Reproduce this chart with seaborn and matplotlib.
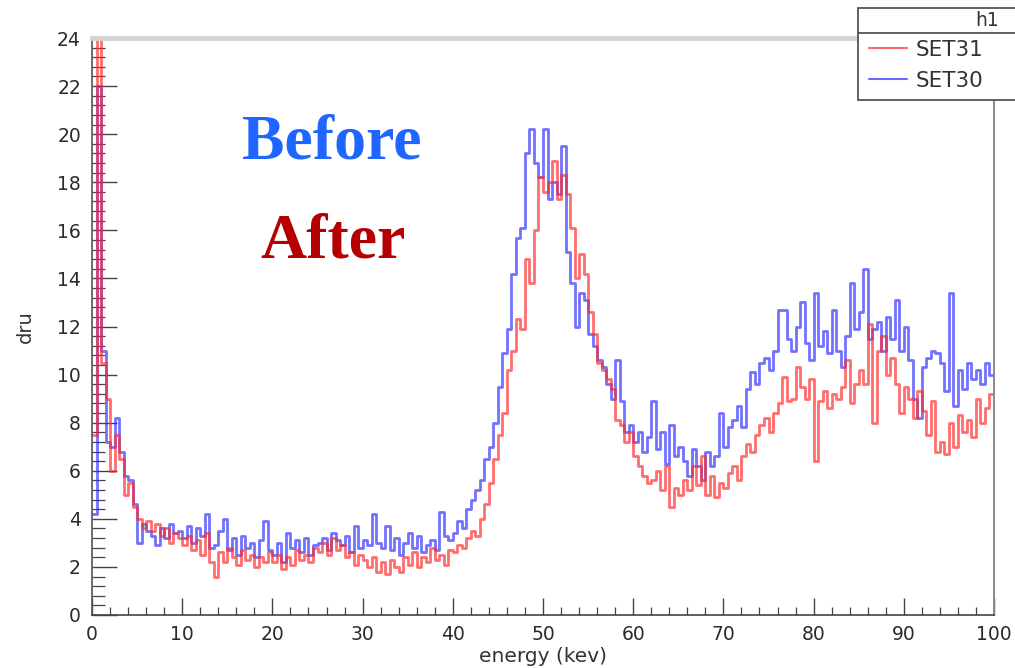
import numpy as np
import pandas as pd
import matplotlib
matplotlib.use("Agg")
import matplotlib.pyplot as plt
from matplotlib.patches import Rectangle
from matplotlib.lines import Line2D
from matplotlib.ticker import MultipleLocator
import seaborn as sns

# ---------------- data (0.5 keV bins, 0..100 keV) ----------------
bin_width = 0.5
energy_range = (0, 100)

series_names = ["SET31", "SET30"]
series_colors = ["#ff2a2a", "#3030ff"]
legend_colors = ["#ff6a6a", "#6a6aff"]

set31 = [
    7.5, 24.0, 10.5, 9.0, 6.0, 7.5, 6.5, 5.0, 5.5, 4.5,
    4.0, 3.6, 3.9, 3.5, 3.8, 3.3, 3.6, 3.0, 3.4, 3.2,
    2.9, 3.3, 2.7, 3.1, 2.5, 3.4, 2.2, 1.6, 2.6, 2.2,
    2.8, 2.4, 2.1, 2.7, 2.3, 2.5, 2.0, 2.4, 2.2, 2.6,
    2.2, 2.5, 1.9, 2.4, 2.1, 2.7, 2.3, 2.5, 2.2, 2.8,
    2.6, 3.0, 2.5, 3.2, 2.7, 2.9, 2.4, 2.6, 2.1, 2.5,
    2.3, 2.0, 2.4, 1.8, 2.2, 1.7, 2.3, 2.0, 1.8, 2.4,
    2.1, 2.6, 2.0, 2.4, 2.2, 2.8, 2.3, 2.5, 2.1, 2.7,
    2.6, 2.9, 2.8, 3.2, 3.5, 3.3, 4.0, 4.6, 5.5, 6.5,
    7.5, 8.4, 10.2, 11.0, 12.3, 11.9, 14.8, 13.8, 16.0, 18.2,
    17.6, 18.0, 18.9, 17.3, 18.3, 17.5, 16.1, 14.0, 15.0, 14.2,
    12.6, 11.7, 10.5, 10.2, 9.8, 9.4, 8.1, 7.9, 7.2, 7.6,
    6.6, 6.2, 5.8, 5.5, 5.6, 6.0, 5.2, 6.2, 4.5, 5.3,
    5.0, 5.6, 5.2, 6.2, 5.4, 6.6, 5.0, 5.8, 4.9, 5.5,
    5.3, 5.9, 6.2, 5.6, 6.6, 7.1, 6.8, 7.5, 7.9, 8.2,
    7.6, 8.4, 8.8, 9.9, 8.9, 9.0, 10.3, 9.5, 9.0, 9.8,
    6.4, 8.9, 9.3, 8.6, 9.2, 9.0, 9.5, 10.6, 8.8, 9.6,
    10.2, 9.6, 12.1, 8.0, 11.0, 11.6, 10.0, 10.7, 9.6, 8.4,
    9.5, 9.0, 8.2, 9.3, 8.5, 7.5, 8.9, 6.8, 7.2, 6.7,
    8.0, 7.0, 8.3, 7.6, 8.1, 7.4, 9.0, 8.0, 8.6, 9.2,
]

set30 = [
    4.2, 22.0, 11.0, 7.2, 7.0, 8.2, 6.8, 5.8, 5.6, 4.6,
    3.0, 3.8, 3.5, 3.3, 2.9, 3.6, 3.2, 3.8, 3.4, 3.5,
    3.2, 3.7, 3.0, 3.6, 3.3, 4.2, 2.8, 2.9, 3.5, 4.0,
    2.7, 3.2, 2.5, 3.3, 2.8, 3.0, 2.4, 3.1, 3.9, 2.7,
    2.5, 3.0, 2.2, 3.4, 2.8, 3.1, 2.6, 3.2, 2.5, 2.9,
    3.0, 3.2, 2.7, 3.4, 3.1, 2.9, 3.3, 2.6, 3.7, 2.8,
    3.1, 2.9, 4.2, 3.0, 2.8, 3.7, 2.7, 3.2, 2.5, 3.0,
    3.4, 2.8, 3.3, 2.6, 2.9, 3.1, 2.7, 4.3, 3.3, 3.1,
    3.4, 3.9, 3.6, 4.4, 4.8, 5.2, 5.6, 6.5, 7.0, 8.0,
    9.5, 10.9, 11.9, 14.2, 15.7, 16.1, 19.2, 20.2, 18.8, 18.2,
    20.2, 17.3, 18.0, 17.5, 19.5, 15.1, 13.8, 12.0, 13.4, 13.1,
    11.7, 11.2, 10.6, 10.3, 9.6, 9.0, 10.6, 8.9, 7.6, 7.9,
    7.2, 7.6, 6.8, 7.4, 8.9, 6.9, 7.6, 6.3, 7.9, 6.6,
    7.0, 6.4, 5.8, 6.9, 6.2, 5.6, 6.8, 6.2, 6.6, 8.4,
    7.0, 7.8, 8.1, 8.7, 7.8, 9.4, 10.1, 9.6, 10.5, 10.7,
    10.2, 11.0, 12.7, 12.7, 11.5, 11.0, 12.0, 13.0, 11.3, 10.6,
    13.4, 11.2, 11.8, 10.9, 12.7, 11.0, 10.3, 11.6, 13.8, 11.9,
    12.6, 14.4, 11.5, 11.9, 12.2, 11.0, 12.4, 11.5, 13.1, 11.0,
    12.0, 10.6, 9.0, 8.2, 10.3, 10.7, 11.0, 10.9, 10.5, 9.3,
    13.4, 8.7, 10.2, 9.4, 10.5, 9.8, 10.2, 9.6, 10.5, 10.0,
]

y_ticks = list(range(0, 25, 2))
x_ticks = list(range(0, 101, 10))

# ---------------- build long-form table ----------------
centers = np.arange(energy_range[0], energy_range[1], bin_width) + bin_width / 2
df = pd.concat([
    pd.DataFrame({"energy": centers, "counts": set31, "set": "SET31"}),
    pd.DataFrame({"energy": centers, "counts": set30, "set": "SET30"}),
], ignore_index=True)

# ---------------- figure ----------------
sns.set_theme(style="white")
plt.rcParams["font.family"] = ["DejaVu Sans"]

fig = plt.figure(figsize=(10.15, 6.68), dpi=100)
ax = fig.add_axes([92 / 1015, 53 / 668, 902 / 1015, 577 / 668])

palette = dict(zip(series_names, series_colors))
# draw blue first, red on top
for name in ["SET30", "SET31"]:
    sub = df[df["set"] == name].reset_index(drop=True)
    sns.histplot(data=sub, x="energy", weights="counts", binwidth=bin_width,
                 binrange=energy_range, element="step", fill=False,
                 color=palette[name], linewidth=2.0, alpha=0.68, ax=ax, legend=False)

ax.set_xlim(0, 100)
ax.set_ylim(0, 24)
ax.set_xticks(x_ticks)
ax.set_yticks(y_ticks)
ax.xaxis.set_minor_locator(MultipleLocator(2))
ax.yaxis.set_minor_locator(MultipleLocator(0.4))
ax.tick_params(axis="both", which="both", direction="in", colors="#444444",
               labelcolor="#2a2a2a", labelsize=13.5)
ax.tick_params(axis="y", which="major", length=18, width=1.0, pad=8)
ax.tick_params(axis="y", which="minor", length=9, width=0.9)
ax.tick_params(axis="x", which="major", length=12, width=1.0, pad=7)
ax.tick_params(axis="x", which="minor", length=6, width=0.9)
ax.tick_params(left=True, bottom=True, which="both")

ax.set_xlabel("energy (kev)", fontsize=14.5, color="#333333", labelpad=2)
ax.set_ylabel("dru", fontsize=14, color="#333333", labelpad=16)

for side, col, lw in [("top", "#d3d3d3", 3.5), ("right", "#8a8a8a", 1.4),
                      ("left", "#555555", 1.2), ("bottom", "#444444", 1.2)]:
    ax.spines[side].set_visible(True)
    ax.spines[side].set_color(col)
    ax.spines[side].set_linewidth(lw)

# annotations
ax.text(0.266, 0.792, "Before", transform=ax.transAxes, ha="center",
        va="baseline", fontsize=46, fontweight="bold", color="#1e66ff",
        family=["Liberation Serif", "DejaVu Serif"])
ax.text(0.267, 0.620, "After", transform=ax.transAxes, ha="center",
        va="baseline", fontsize=46, fontweight="bold", color="#b40000",
        family=["Liberation Serif", "DejaVu Serif"])

# legend box (ROOT style, extends past right edge)
W, H = 1015.0, 668.0
box = Rectangle((858 / W, 1 - 100 / H), 200 / W, 92 / H, transform=fig.transFigure,
                facecolor="white", edgecolor="#555555", linewidth=1.3, zorder=5)
fig.add_artist(box)
fig.add_artist(Line2D([858 / W, 1.0], [1 - 33 / H, 1 - 33 / H], transform=fig.transFigure,
                      color="#555555", linewidth=1.3, zorder=6))
fig.text(987 / W, 1 - 21 / H, "h1", ha="center", va="center", fontsize=13.5,
         color="#333333", zorder=7)

handles = [Line2D([], [], color=c, linewidth=1.5) for c in legend_colors]
leg = fig.legend(handles, series_names, loc="upper left",
                 bbox_to_anchor=(869 / W, 1 - 40 / H), bbox_transform=fig.transFigure,
                 frameon=False, fontsize=15.5, handlelength=1.75, handletextpad=0.4,
                 labelspacing=0.5, borderpad=0, borderaxespad=0)
for t in leg.get_texts():
    t.set_color("#333333")
leg.set_zorder(8)

fig.savefig("out.png", dpi=100)
